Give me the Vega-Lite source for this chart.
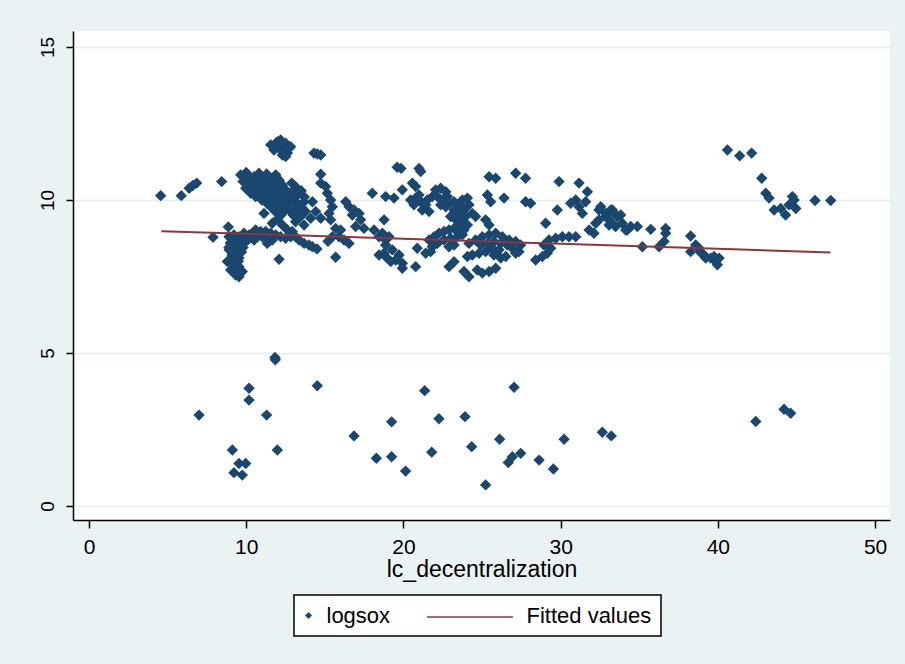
{
  "$schema": "https://vega.github.io/schema/vega-lite/v6.json",
  "width": 817,
  "height": 489,
  "autosize": {"type": "none"},
  "padding": {"left": 73, "top": 31, "right": 15, "bottom": 144},
  "background": "#EAF2F3",
  "config": {
    "view": {"fill": "white", "stroke": null},
    "axis": {"labelFont": "Liberation Sans, Arial, sans-serif", "titleFont": "Liberation Sans, Arial, sans-serif", "labelColor": "black", "titleColor": "black", "domainColor": "black", "tickColor": "black", "titleFontWeight": "normal"},
    "legend": {"labelFont": "Liberation Sans, Arial, sans-serif", "titleFont": "Liberation Sans, Arial, sans-serif", "titleFontWeight": "normal", "titleColor": "black", "labelColor": "black", "strokeWidth": 1.5}
  },
  "resolve": {"scale": {"color": "independent"}},
  "datasets": {
    "pts": [
      {"x":4.56,"y":10.14},{"x":5.87,"y":10.14},{"x":6.37,"y":10.38},{"x":6.6,"y":10.47},{"x":6.85,"y":10.55},{"x":8.44,"y":10.6},{"x":7.89,"y":8.78},{"x":8.86,"y":9.12},
      {"x":11.56,"y":11.8},{"x":11.88,"y":11.85},{"x":12.19,"y":11.96},{"x":12.51,"y":11.85},{"x":12.83,"y":11.74},{"x":12.09,"y":11.69},{"x":12.4,"y":11.63},{"x":12.62,"y":11.53},{"x":12.3,"y":11.47},{"x":11.77,"y":11.63},{"x":12.51,"y":11.42},{"x":11.7,"y":11.75},{"x":12.0,"y":11.9},
      {"x":14.31,"y":11.53},{"x":14.52,"y":11.5},{"x":14.74,"y":11.47},{"x":14.74,"y":10.84},
      {"x":9.65,"y":10.82},{"x":9.97,"y":10.65},{"x":10.29,"y":10.49},{"x":10.6,"y":10.33},{"x":10.92,"y":10.16},{"x":11.24,"y":10.06},{"x":11.56,"y":9.94},{"x":11.88,"y":9.84},{"x":12.19,"y":9.78},{"x":12.51,"y":9.67},
      {"x":10.5,"y":10.76},{"x":10.81,"y":10.87},{"x":11.02,"y":10.71},{"x":11.24,"y":10.55},{"x":11.56,"y":10.38},{"x":11.88,"y":10.22},{"x":12.09,"y":10.11},{"x":12.4,"y":10.0},{"x":12.72,"y":9.89},
      {"x":11.88,"y":10.82},{"x":12.09,"y":10.65},{"x":12.3,"y":10.49},{"x":12.51,"y":10.33},{"x":12.83,"y":10.22},{"x":13.14,"y":10.11},{"x":13.36,"y":10.22},{"x":13.04,"y":10.33},
      {"x":9.97,"y":10.38},{"x":10.29,"y":10.22},{"x":10.6,"y":10.11},{"x":10.39,"y":10.55},{"x":10.71,"y":10.49},{"x":11.45,"y":10.76},
      {"x":12.93,"y":9.94},{"x":13.36,"y":9.84},{"x":13.14,"y":9.67},{"x":12.83,"y":9.62},{"x":13.68,"y":9.94},{"x":13.57,"y":9.73},{"x":13.78,"y":9.62},{"x":13.46,"y":9.46},{"x":13.14,"y":9.29},{"x":13.68,"y":9.18},
      {"x":14.21,"y":9.94},{"x":14.42,"y":9.62},{"x":14.74,"y":9.4},{"x":14.1,"y":9.4},
      {"x":14.74,"y":10.55},{"x":15.05,"y":10.44},{"x":15.16,"y":10.22},{"x":15.37,"y":10.0},{"x":15.48,"y":9.78},{"x":15.27,"y":9.56},{"x":15.37,"y":9.35},{"x":15.69,"y":9.07},{"x":16.0,"y":9.02},
      {"x":16.33,"y":9.94},{"x":16.54,"y":9.78},{"x":16.86,"y":9.67},{"x":17.18,"y":9.56},{"x":16.75,"y":9.51},{"x":17.28,"y":9.35},{"x":16.96,"y":9.13},{"x":17.49,"y":9.07},
      {"x":16.22,"y":8.69},{"x":16.54,"y":8.58},{"x":15.9,"y":8.8},{"x":15.48,"y":8.8},
      {"x":18.02,"y":10.22},{"x":18.87,"y":10.11},
      {"x":18.13,"y":9.02},{"x":18.45,"y":8.8},{"x":18.87,"y":8.69},{"x":18.66,"y":8.91},{"x":18.45,"y":8.2},{"x":18.87,"y":8.15},
      {"x":15.69,"y":8.13},{"x":12.09,"y":8.06},{"x":11.13,"y":9.56},{"x":11.98,"y":9.37},{"x":11.66,"y":9.24},
      {"x":9.8,"y":10.6},{"x":10.1,"y":10.45},{"x":10.4,"y":10.3},{"x":10.7,"y":10.2},{"x":11.0,"y":10.0},{"x":11.3,"y":9.9},{"x":11.6,"y":9.75},{"x":11.9,"y":9.6},{"x":12.2,"y":9.5},{"x":10.0,"y":10.9},{"x":10.3,"y":10.7},{"x":10.6,"y":10.6},{"x":10.9,"y":10.45},{"x":11.2,"y":10.3},{"x":11.5,"y":10.15},{"x":11.8,"y":10.0},{"x":12.1,"y":9.9},{"x":12.4,"y":9.8},{"x":12.7,"y":9.7},{"x":13.0,"y":9.5},{"x":11.3,"y":10.85},{"x":11.6,"y":10.6},{"x":11.9,"y":10.45},{"x":12.2,"y":10.3},{"x":12.5,"y":10.15},{"x":12.8,"y":10.05},{"x":13.1,"y":9.95},{"x":13.4,"y":9.7},{"x":12.9,"y":10.55},{"x":13.2,"y":10.4},{"x":13.5,"y":10.3},{"x":13.7,"y":10.1},
      {"x":8.91,"y":8.8},{"x":9.22,"y":8.86},{"x":9.54,"y":8.8},{"x":9.86,"y":8.91},{"x":10.18,"y":8.86},{"x":9.01,"y":8.58},{"x":9.33,"y":8.53},{"x":9.65,"y":8.58},{"x":9.97,"y":8.64},{"x":8.91,"y":8.37},{"x":9.22,"y":8.31},{"x":9.54,"y":8.37},{"x":9.12,"y":8.1},{"x":9.54,"y":8.1},{"x":8.8,"y":7.99},{"x":9.33,"y":7.93},{"x":9.54,"y":7.82},{"x":9.33,"y":7.55},{"x":9.54,"y":7.49},{"x":9.01,"y":7.71},{"x":9.75,"y":7.66},
      {"x":9.0,"y":8.6},{"x":9.3,"y":8.7},{"x":9.6,"y":8.65},{"x":9.9,"y":8.75},{"x":10.1,"y":8.7},{"x":9.1,"y":8.2},{"x":9.4,"y":8.25},{"x":9.7,"y":8.3},{"x":9.2,"y":7.9},{"x":9.5,"y":8.0},{"x":9.4,"y":7.7},{"x":9.6,"y":7.6},{"x":8.9,"y":8.45},{"x":9.8,"y":8.45},
      {"x":10.39,"y":8.91},{"x":10.71,"y":8.8},{"x":11.02,"y":8.8},{"x":11.34,"y":8.69},{"x":11.66,"y":8.69},{"x":10.6,"y":9.02},{"x":10.92,"y":8.97},{"x":11.24,"y":8.97},{"x":11.56,"y":8.91},{"x":11.88,"y":8.86},{"x":12.19,"y":8.8},{"x":12.51,"y":8.75},{"x":12.83,"y":8.8},{"x":12.3,"y":9.18},{"x":12.62,"y":9.02},{"x":12.93,"y":8.97},{"x":13.14,"y":8.8},{"x":13.36,"y":8.69},{"x":13.68,"y":8.58},{"x":13.99,"y":8.53},{"x":14.21,"y":8.47},{"x":10.5,"y":8.69},{"x":11.34,"y":8.58},{"x":14.5,"y":8.4},{"x":15.2,"y":8.65},
      {"x":19.6,"y":11.07},{"x":19.85,"y":11.03},{"x":20.99,"y":11.03},{"x":21.1,"y":10.93},{"x":19.4,"y":10.06},{"x":19.93,"y":10.33},{"x":18.77,"y":9.35},{"x":20.57,"y":10.55},{"x":20.78,"y":10.44},
      {"x":20.46,"y":10.0},{"x":20.78,"y":10.06},{"x":21.1,"y":9.94},{"x":21.42,"y":9.84},{"x":21.2,"y":9.67},{"x":21.63,"y":9.62},{"x":20.67,"y":9.84},{"x":20.99,"y":10.16},{"x":21.52,"y":10.0},
      {"x":22.05,"y":10.33},{"x":22.37,"y":10.38},{"x":22.69,"y":10.27},{"x":22.16,"y":10.11},{"x":22.48,"y":10.0},{"x":22.8,"y":10.11},{"x":22.9,"y":9.89},{"x":23.22,"y":9.94},{"x":23.54,"y":9.84},{"x":23.75,"y":10.0},{"x":24.07,"y":10.06},{"x":24.17,"y":9.84},{"x":23.85,"y":9.67},{"x":23.54,"y":9.56},{"x":23.22,"y":9.67},{"x":23.0,"y":9.46},{"x":23.33,"y":9.35},{"x":23.64,"y":9.29},{"x":23.96,"y":9.46},{"x":24.38,"y":9.56},{"x":24.59,"y":9.46},{"x":22.69,"y":9.78},{"x":22.37,"y":9.84},{"x":21.84,"y":10.11},
      {"x":25.45,"y":10.76},{"x":25.87,"y":10.71},{"x":27.14,"y":10.87},{"x":27.77,"y":10.71},{"x":25.34,"y":10.16},{"x":25.55,"y":9.94},{"x":26.4,"y":10.06},{"x":27.77,"y":9.94},{"x":28.09,"y":9.89},{"x":25.23,"y":9.35},{"x":25.45,"y":9.18},
      {"x":24.17,"y":8.58},{"x":24.59,"y":8.69},{"x":25.02,"y":8.8},{"x":25.45,"y":8.86},{"x":25.87,"y":8.91},{"x":26.29,"y":8.8},{"x":26.72,"y":8.69},{"x":27.14,"y":8.64},{"x":27.46,"y":8.53},{"x":24.92,"y":8.53},{"x":25.34,"y":8.58},{"x":25.76,"y":8.64},{"x":26.19,"y":8.58},{"x":26.61,"y":8.53},{"x":26.93,"y":8.42},{"x":27.35,"y":8.31},{"x":26.08,"y":8.37},{"x":25.66,"y":8.42},{"x":25.23,"y":8.31},{"x":24.81,"y":8.26},{"x":24.38,"y":8.2},{"x":24.07,"y":8.15},{"x":25.76,"y":8.2},
      {"x":22.9,"y":7.82},{"x":23.22,"y":7.98},{"x":23.85,"y":7.66},{"x":24.17,"y":7.49},{"x":24.7,"y":7.71},{"x":25.02,"y":7.61},{"x":25.45,"y":7.66},{"x":25.87,"y":7.77},{"x":26.19,"y":8.1},{"x":26.51,"y":8.15},{"x":27.14,"y":8.26},
      {"x":28.41,"y":8.04},{"x":28.84,"y":8.15},{"x":29.15,"y":8.26},{"x":29.37,"y":8.42},{"x":28.94,"y":8.53},{"x":29.05,"y":9.24},
      {"x":29.26,"y":8.69},{"x":29.69,"y":8.75},{"x":30.11,"y":8.8},{"x":30.53,"y":8.8},{"x":30.96,"y":8.8},{"x":29.79,"y":9.67},{"x":29.9,"y":10.6},{"x":31.17,"y":10.55},{"x":31.7,"y":10.27},
      {"x":30.64,"y":9.89},{"x":30.96,"y":10.0},{"x":31.17,"y":9.78},{"x":31.38,"y":9.56},{"x":31.59,"y":9.94},{"x":31.81,"y":9.02},{"x":32.12,"y":8.91},
      {"x":32.44,"y":9.67},{"x":32.86,"y":9.46},{"x":33.29,"y":9.67},{"x":33.61,"y":9.46},{"x":33.92,"y":9.24},{"x":34.24,"y":9.02},{"x":32.44,"y":9.35},{"x":32.23,"y":9.24},{"x":33.08,"y":9.18},{"x":33.5,"y":9.13},
      {"x":19.08,"y":8.8},{"x":18.87,"y":8.53},{"x":19.29,"y":8.37},{"x":19.72,"y":8.2},{"x":19.93,"y":7.93},{"x":19.51,"y":8.04},{"x":18.77,"y":8.26},{"x":19.19,"y":7.99},{"x":19.93,"y":7.77},{"x":20.78,"y":7.82},{"x":20.88,"y":8.42},
      {"x":21.63,"y":8.69},{"x":21.95,"y":8.8},{"x":22.26,"y":8.91},{"x":22.58,"y":8.97},{"x":22.9,"y":9.02},{"x":23.22,"y":9.07},{"x":23.54,"y":9.13},{"x":21.84,"y":8.47},{"x":22.16,"y":8.58},{"x":22.58,"y":8.69},{"x":23.0,"y":8.75},{"x":23.43,"y":8.8},{"x":23.75,"y":8.86},{"x":21.42,"y":8.26},{"x":21.73,"y":8.31},{"x":22.9,"y":8.47},{"x":23.22,"y":8.53},{"x":23.54,"y":8.91},{"x":23.85,"y":9.02},{"x":24.07,"y":9.18},
      {"x":32.55,"y":9.78},{"x":32.87,"y":9.56},{"x":33.19,"y":9.67},{"x":33.4,"y":9.56},{"x":33.08,"y":9.35},{"x":33.4,"y":9.18},{"x":33.82,"y":9.51},
      {"x":34.14,"y":9.02},{"x":34.46,"y":9.13},{"x":34.88,"y":9.13},{"x":35.73,"y":9.04},{"x":35.2,"y":8.47},{"x":36.26,"y":8.47},{"x":36.58,"y":8.64},{"x":36.68,"y":9.07},{"x":36.68,"y":8.91},{"x":38.27,"y":8.82},
      {"x":38.27,"y":8.31},{"x":38.59,"y":8.53},{"x":38.8,"y":8.42},{"x":39.12,"y":8.2},{"x":39.23,"y":8.1},{"x":39.55,"y":8.1},{"x":39.87,"y":7.99},{"x":40.08,"y":8.1},{"x":39.97,"y":7.88},{"x":39.76,"y":8.15},{"x":38.91,"y":8.28},
      {"x":40.61,"y":11.63},{"x":41.39,"y":11.44},{"x":42.15,"y":11.53},{"x":42.79,"y":10.71},{"x":43.05,"y":10.22},{"x":43.26,"y":10.06},{"x":43.58,"y":9.67},{"x":44.0,"y":9.72},{"x":44.31,"y":9.51},{"x":44.53,"y":9.84},{"x":44.85,"y":10.0},{"x":44.96,"y":9.72},{"x":44.74,"y":10.11},{"x":46.18,"y":9.98},{"x":47.18,"y":9.98},
      {"x":7.0,"y":2.97},{"x":9.12,"y":1.83},{"x":9.22,"y":1.09},{"x":9.75,"y":1.01},{"x":9.54,"y":1.39},{"x":9.97,"y":1.39},{"x":10.18,"y":3.85},{"x":10.18,"y":3.46},{"x":11.3,"y":2.97},{"x":11.83,"y":4.85},{"x":11.85,"y":4.78},{"x":11.98,"y":1.83},{"x":14.52,"y":3.93},{"x":16.86,"y":2.29},{"x":18.28,"y":1.56},{"x":19.25,"y":2.75},{"x":19.25,"y":1.61},{"x":20.14,"y":1.14},{"x":21.35,"y":3.77},{"x":22.26,"y":2.85},{"x":21.8,"y":1.76},{"x":23.92,"y":2.92},{"x":24.34,"y":1.94},{"x":25.23,"y":0.69},{"x":26.12,"y":2.18},{"x":27.04,"y":3.88},{"x":26.67,"y":1.42},{"x":26.93,"y":1.61},{"x":27.46,"y":1.72},{"x":28.63,"y":1.5},{"x":29.54,"y":1.21},{"x":30.22,"y":2.18},{"x":32.65,"y":2.41},{"x":33.22,"y":2.29},{"x":42.41,"y":2.76},{"x":44.21,"y":3.16},{"x":44.63,"y":3.03}
    ],
    "fit": [
      {"x":4.6,"y":8.98},{"x":10,"y":8.892},{"x":20,"y":8.729},{"x":30,"y":8.566},{"x":40,"y":8.402},{"x":47.16,"y":8.285}
    ]
  },
  "layer": [
    {
      "data": {"name": "pts"},
      "mark": {"type": "point", "shape": "diamond", "filled": true, "size": 130, "opacity": 1},
      "encoding": {
        "x": {
          "field": "x", "type": "quantitative",
          "scale": {"domain": [-1.017, 50.95], "nice": false, "zero": false},
          "axis": {
            "values": [0, 10, 20, 30, 40, 50],
            "title": "lc_decentralization",
            "grid": false,
            "domainWidth": 1.5, "tickWidth": 1.5, "tickSize": 8,
            "labelFontSize": 21, "labelPadding": 8,
            "titleFontSize": 23, "titlePadding": 1
          }
        },
        "y": {
          "field": "y", "type": "quantitative",
          "scale": {"domain": [-0.457, 15.52], "nice": false, "zero": false},
          "axis": {
            "values": [0, 5, 10, 15],
            "title": null,
            "grid": true, "gridColor": "#E6EEF0", "gridWidth": 1.5,
            "domainWidth": 1.5, "tickWidth": 1.5, "tickSize": 7,
            "labelFontSize": 19, "labelAngle": 270, "labelAlign": "center", "labelBaseline": "bottom", "labelPadding": 9
          }
        },
        "color": {
          "datum": "logsox",
          "scale": {"domain": ["logsox"], "range": ["#1A476F"]},
          "legend": {
            "orient": "none", "legendX": 221, "legendY": 564,
            "direction": "horizontal",
            "fillColor": "white", "strokeColor": "black",
            "padding": 9.5, "zindex": 0,
            "symbolType": "diamond", "symbolSize": 49, "symbolOffset": -6, "labelOffset": 7,
            "labelFontSize": 22,
            "title": "Fitted values", "titleOrient": "right", "titlePadding": 136,
            "titleFontSize": 22, "titleBaseline": "middle"
          }
        }
      }
    },
    {
      "data": {"name": "fit"},
      "mark": {"type": "line", "strokeWidth": 2},
      "encoding": {
        "x": {"field": "x", "type": "quantitative"},
        "y": {"field": "y", "type": "quantitative"},
        "color": {
          "datum": "Fitted values",
          "scale": {"domain": ["Fitted values"], "range": ["#90353B"]},
          "legend": {
            "orient": "none", "legendX": 353, "legendY": 575,
            "title": null, "padding": 0, "zindex": 1,
            "symbolType": "stroke", "symbolSize": 7396, "symbolStrokeWidth": 1.5,
            "clipHeight": 22, "labelExpr": "''", "labelOffset": 0
          }
        }
      }
    }
  ]
}
